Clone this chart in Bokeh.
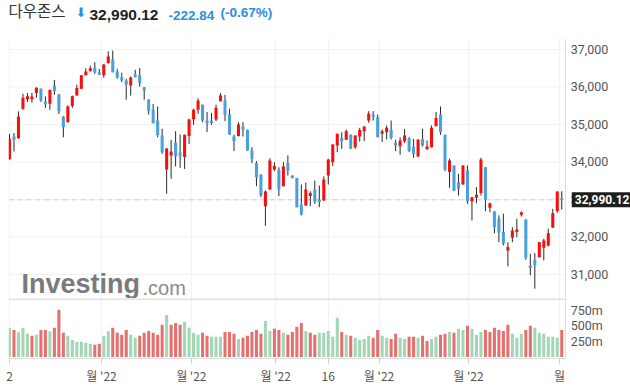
from bokeh.plotting import figure
from bokeh.layouts import column
from bokeh.models import (Range1d, FixedTicker, Span, Label, ColumnDataSource, Grid)
from bokeh.core.properties import value
from bokeh.embed import file_html
from bokeh.resources import INLINE

# ---------------- data ----------------
opens = [34080, 34680, 34630, 35420, 35670, 35670, 35840, 35950, 35610, 35550,
         36040, 35800, 35210, 35060, 35490, 35770, 35950, 36315, 36420, 36510,
         36395, 36315, 36635, 36730, 36410, 36260, 36175, 36040, 36340, 36315,
         35990, 35665, 35400, 35105, 34705, 33800, 34175, 34520, 34255, 34130,
         34690, 35140, 35390, 35525, 35105, 35105, 35135, 35620, 35640, 35265,
         34680, 34690, 34945, 34855, 34305, 33970, 33665, 32820, 33265, 33800,
         33800, 33355, 33970, 33640, 33570, 32865, 32840, 33090, 33265, 33000,
         32975, 33640, 33995, 34440, 34645, 34590, 34725, 34395, 34680, 34820,
         35105, 35265, 35195, 34750, 34795, 34855, 34520, 34420, 34555, 34635,
         34415, 34145, 34615, 34340, 34395, 34955, 35265, 34725, 33730, 33905,
         33460, 33400, 33775, 32955, 33045, 33170, 33860, 32780, 32680, 32500,
         32130, 31640, 31980, 32130, 32590, 32465, 31240, 31390, 31460, 31710,
         31775, 32245, 32690, 33035]
highs = [34750, 34770, 35350, 35820, 35840, 35840, 35995, 35960, 35750, 35930,
         36190, 35810, 35220, 35510, 35770, 36060, 36315, 36500, 36570, 36660,
         36480, 36605, 36950, 36970, 36485, 36380, 36220, 36280, 36460, 36510,
         35995, 35670, 35550, 35480, 34885, 34365, 34590, 34820, 34735, 34730,
         35150, 35420, 35700, 35530, 35330, 35310, 35525, 35835, 35790, 35420,
         34725, 35060, 35060, 34865, 34395, 34020, 33670, 33240, 34100, 33995,
         33860, 33995, 34175, 33645, 33575, 33400, 33445, 33220, 33505, 33375,
         33615, 34085, 34470, 34755, 34795, 34865, 34730, 34710, 34910, 34950,
         35355, 35355, 35265, 34865, 34975, 35105, 34590, 34660, 34885, 34660,
         34615, 34615, 34885, 34575, 34975, 35330, 35480, 34730, 34085, 33910,
         33685, 33910, 33905, 33065, 33330, 34110, 33865, 32910, 32685, 32575,
         32620, 31860, 32260, 32485, 32680, 32470, 31550, 31570, 31865, 31950,
         32220, 32750, 33220, 33220]
lows = [34060, 34280, 34620, 35390, 35600, 35580, 35710, 35600, 35440, 35390,
        35790, 35280, 34660, 35050, 35440, 35765, 35945, 36310, 36415, 36350,
        36320, 36245, 36630, 36390, 36220, 36130, 35660, 35770, 36255, 36010,
        35660, 35265, 35030, 34660, 34215, 33150, 33550, 33880, 33845, 33815,
        34485, 34990, 35285, 35060, 34795, 34990, 35090, 35615, 35090, 34725,
        34290, 34680, 34680, 34300, 33970, 33355, 33060, 32300, 33260, 33755,
        33090, 33350, 33640, 33560, 32790, 32575, 32835, 32820, 32885, 32795,
        32965, 33400, 33890, 34260, 34350, 34585, 34345, 34350, 34545, 34555,
        35045, 35105, 34655, 34530, 34600, 34600, 34290, 34190, 34500, 34260,
        34110, 34130, 34410, 34325, 34390, 34950, 34725, 33755, 33310, 33220,
        33105, 33395, 32885, 32440, 32900, 33105, 32690, 32660, 32100, 31860,
        31775, 31215, 31860, 31995, 32545, 31390, 30975, 30620, 31455, 31375,
        31745, 32240, 32645, 32735]
closes = [34620, 34590, 35210, 35710, 35750, 35745, 35980, 35640, 35540, 35920,
          35890, 35355, 34930, 35480, 35750, 35970, 36310, 36410, 36500, 36390,
          36325, 36600, 36810, 36395, 36245, 36175, 36065, 36255, 36262, 36100,
          35905, 35355, 35035, 34715, 34260, 34360, 34280, 34155, 34150, 34725,
          35135, 35390, 35640, 35105, 35035, 35040, 35445, 35775, 35250, 34735,
          34555, 35000, 34865, 34305, 34085, 33595, 33105, 33215, 34040, 33890,
          33265, 33880, 33775, 33570, 32795, 32600, 33265, 33170, 32930, 32935,
          33535, 34065, 34465, 34750, 34555, 34820, 34350, 34705, 34855, 34945,
          35285, 35195, 34660, 34820, 34910, 34645, 34440, 34575, 34705, 34290,
          34215, 34590, 34440, 34415, 34910, 35170, 34795, 33800, 34040, 33240,
          33285, 33905, 32955, 33060, 33125, 34065, 32990, 32900, 32260, 32110,
          31820, 31730, 32175, 32200, 32660, 31445, 31170, 31240, 31860, 31905,
          32100, 32635, 33213, 32990.12]
volumes_m = [470, 437, 400, 470, 373, 341, 357, 437, 437, 416,
             470, 760, 389, 341, 276, 244, 244, 228, 212, 196,
             212, 341, 416, 470, 389, 357, 437, 357, 309, 341,
             389, 421, 389, 357, 518, 679, 518, 550, 518, 566,
             470, 389, 357, 389, 341, 325, 325, 325, 405, 405,
             373, 292, 309, 341, 405, 437, 373, 582, 421, 454,
             437, 389, 357, 405, 486, 550, 421, 389, 357, 389,
             389, 421, 325, 631, 405, 357, 341, 309, 276, 292,
             341, 309, 437, 341, 309, 292, 373, 309, 292, 325,
             325, 309, 341, 260, 292, 325, 357, 373, 405, 389,
             454, 437, 502, 454, 357, 405, 437, 405, 470, 437,
             421, 518, 373, 309, 373, 437, 502, 470, 389, 373,
             325, 325, 309, 437]

x_tick_pos = [0, 20.5, 40.5, 59.3, 71, 82.3, 102.2, 122.5]
x_tick_labels = ["2", "월 '22", "월 '22", "월 '22", "16", "월 '22", "월 '22", "월"]
price_ticks = [31000, 32000, 33000, 34000, 35000, 36000, 37000]
price_tick_labels = ["31,000", "32,000", "33,000", "34,000", "35,000", "36,000", "37,000"]
vol_ticks = [250, 500, 750]
vol_tick_labels = ["250m", "500m", "750m"]

name = "다우존스"
last_close = 32990.12
change = -222.84
change_pct = -0.67

# ---------------- styles ----------------
UP = "#f50f0f"
DOWN = "#4aa0da"
WICK = "#2a2a2a"
VUP = "#a3d6b4"
VDOWN = "#e57070"
AXIS_TXT = "#555555"
AXIS_LINE = "#dddddd"
GRID = "#f2f2f2"
W = 630
X0 = -0.22          # left edge of the plotting area (index units)
AXIS_X = 123.83     # right edge of the candle area, where the value scales sit
X_END = 138.31      # right edge of the canvas (index units)
LBL_X = AXIS_X + 1.15

n = len(closes)
xs = list(range(n))
src = ColumnDataSource(dict(
    x=xs, o=opens, h=highs, l=lows, c=closes,
    top=[max(a, b) for a, b in zip(opens, closes)],
    bot=[min(a, b) for a, b in zip(opens, closes)],
    col=[UP if c >= o else DOWN for o, c in zip(opens, closes)],
    vol=volumes_m,
    vcol=[VUP if (i == 0 or closes[i] >= closes[i - 1]) else VDOWN for i in range(n)],
))

xr = Range1d(X0, X_END)

# ---------------- header ----------------
head = figure(width=W, height=38, x_range=Range1d(8, W), y_range=Range1d(0, 38),
              toolbar_location=None, output_backend="svg", min_border=0, min_border_left=8,
              x_axis_type=None, y_axis_type=None, outline_line_color=None)
head.grid.visible = False
head.add_layout(Label(x=8, y=17.8, text=name, text_font="Noto Sans CJK KR",
                      text_font_size="15.5px", text_color="#333333"))
head.add_layout(Label(x=75, y=19, text="⬇", text_font="DejaVu Sans",
                      text_font_size="13px", text_color="#2a8de6"))
head.add_layout(Label(x=89, y=18.7, text=f"{last_close:,.2f}", text_font="Liberation Sans",
                      text_font_style="bold", text_font_size="15.5px", text_color="#222222"))
head.add_layout(Label(x=168, y=18.7, text=f"{change:,.2f}", text_font="Liberation Sans",
                      text_font_style="bold", text_font_size="13.5px", text_color="#2a8de6"))
head.add_layout(Label(x=220, y=18.7, text=f"({change_pct:.2f}%)", text_font="Liberation Sans",
                      text_font_style="bold", text_font_size="13.5px", text_color="#2a8de6"))

# ---------------- price panel ----------------
price = figure(width=W, height=260, x_range=xr, y_range=Range1d(30359, 37293),
               toolbar_location=None, output_backend="svg",
               min_border_left=8, min_border_right=0, min_border_top=0, min_border_bottom=0,
               x_axis_type=None, y_axis_type=None, outline_line_color=None)
price.grid.visible = False
price.add_layout(Grid(dimension=0, ticker=FixedTicker(ticks=x_tick_pos),
                      grid_line_color=GRID))
price.segment(x0=X0, x1=AXIS_X, y0=price_ticks, y1=price_ticks,
              line_color=GRID, line_width=1, level="underlay")
price.add_layout(Span(location=AXIS_X, dimension="height", line_color=AXIS_LINE, line_width=1))
price.text(x=[LBL_X] * len(price_ticks), y=price_ticks, text=price_tick_labels,
           text_font=value("Roboto"), text_font_size=value("12.5px"),
           text_color=AXIS_TXT, text_baseline="middle", text_align="left")

price.add_layout(Label(x=13, y=0, x_units="screen", y_units="screen", text="Investing",
                       text_font="Liberation Sans", text_font_style="bold",
                       text_font_size="27px", text_color="#7a7a7a", level="underlay"))
price.add_layout(Label(x=134, y=0, x_units="screen", y_units="screen", text=".com",
                       text_font="Liberation Sans", text_font_size="20px",
                       text_color="#8a8a8a", level="underlay"))

price.segment(x0=X0, x1=AXIS_X, y0=last_close, y1=last_close, line_color="#cccccc",
              line_dash="5 4", line_width=1)
price.segment(x0="x", y0="l", x1="x", y1="h", source=src, line_color=WICK, line_width=1)
price.vbar(x="x", width=0.68, top="top", bottom="bot", source=src,
           fill_color="col", line_color=None)
price.add_layout(Label(x=AXIS_X + 1.4, y=last_close, x_units="data", y_units="data",
                       text=f"{last_close:,.2f}", text_font="Roboto", text_font_style="bold",
                       text_font_size="12px", text_color="white", text_baseline="middle",
                       background_fill_color="#1e1e1e", padding=3))

# ---------------- volume panel ----------------
VTOP = 943
vol = figure(width=W, height=89, x_range=xr, y_range=Range1d(-24, VTOP),
             toolbar_location=None, output_backend="svg",
             min_border_left=8, min_border_right=0, min_border_top=0, min_border_bottom=29,
             y_axis_type=None, outline_line_color=None)
vx = vol.xaxis[0]
vx.ticker = FixedTicker(ticks=x_tick_pos)
vx.major_label_overrides = {t: s for t, s in zip(x_tick_pos, x_tick_labels)}
vx.major_label_text_font = "Noto Sans CJK KR"
vx.major_label_text_font_size = "12px"
vx.major_label_text_color = AXIS_TXT
vx.axis_line_color = AXIS_LINE
vx.major_tick_line_color = "#cccccc"
vx.major_tick_out = 5
vx.major_tick_in = 0
vx.minor_tick_out = 0
vx.minor_tick_in = 0
vx.major_label_standoff = 3
vx.bounds = (X0, AXIS_X)
vol.xgrid.grid_line_color = GRID

vol.add_layout(Span(location=AXIS_X, dimension="height", line_color=AXIS_LINE, line_width=1))
vol.text(x=[LBL_X] * len(vol_ticks), y=vol_ticks, text=vol_tick_labels,
         text_font=value("Roboto"), text_font_size=value("12.5px"),
         text_color=AXIS_TXT, text_baseline="middle", text_align="left")
vol.vbar(x="x", width=0.68, top="vol", bottom=0, source=src, fill_color="vcol", line_color=None)
vol.segment(x0=X0, x1=AXIS_X, y0=VTOP - 8, y1=VTOP - 8, line_color="#c4c4c4", line_width=1)

layout = column(head, price, vol, spacing=0)
open("out.html", "w").write(file_html(layout, INLINE))
